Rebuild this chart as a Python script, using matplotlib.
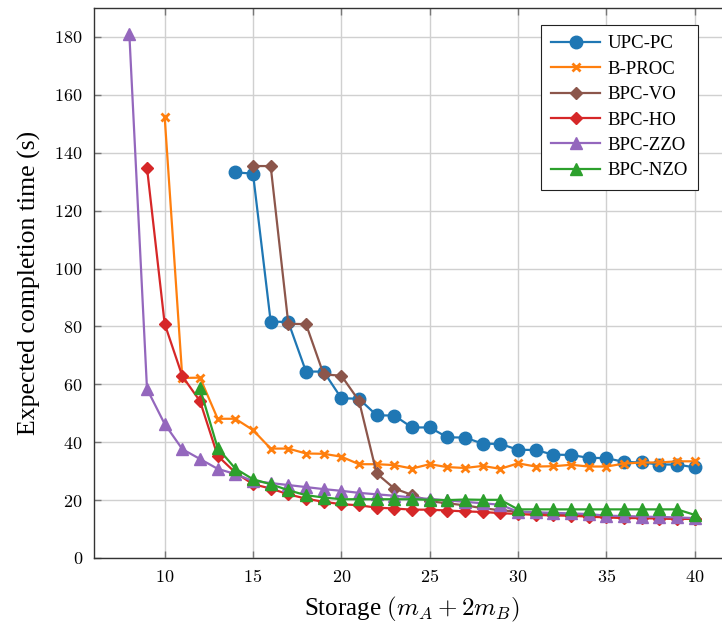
import numpy as np
import matplotlib
matplotlib.use("Agg")
import matplotlib.pyplot as plt
from matplotlib.ticker import FuncFormatter

plt.rcParams['font.family'] = ['Liberation Serif', 'DejaVu Serif']
plt.rcParams['mathtext.fontset'] = 'cm'

# Data
upc_x = list(range(14, 41))
upc_y = [133.2, 132.8, 81.7, 81.5, 64.4, 64.4, 55.2, 55.0, 49.3, 49.2, 45.1, 45.1,
         41.7, 41.6, 39.5, 39.4, 37.4, 37.3, 35.7, 35.6, 34.6, 34.5, 33.2, 33.0,
         32.3, 32.3, 31.3]

bproc_x = list(range(10, 41))
bproc_y = [152.4, 62.2, 62.3, 48.1, 48.1, 44.2, 37.8, 37.8, 36.1, 36.0, 35.0,
           32.4, 32.4, 32.1, 30.9, 32.4, 31.4, 31.1, 31.8, 30.8, 32.7, 31.6,
           31.7, 32.2, 31.6, 31.6, 32.6, 33.0, 33.0, 33.4, 33.4]

vo_x = list(range(15, 41))
vo_y = [135.4, 135.4, 80.9, 80.8, 63.4, 63.0, 54.3, 29.2, 24.0, 21.8, 19.6, 18.9,
        18.2, 17.2, 16.5, 16.0, 15.6, 15.3, 15.0, 14.8, 14.5, 14.3, 14.1, 13.9,
        13.7, 13.6]

ho_x = list(range(9, 41))
ho_y = [134.8, 80.9, 62.8, 54.2, 35.3, 29.5, 25.5, 24.0, 22.0, 20.5, 19.4, 18.6,
        18.2, 17.4, 17.1, 16.7, 16.7, 16.4, 16.1, 15.9, 15.5, 15.2, 14.9, 14.7,
        14.6, 14.3, 14.0, 13.8, 13.8, 13.6, 13.5, 13.5]

zzo_x = list(range(8, 41))
zzo_y = [181.0, 58.4, 46.3, 37.6, 34.2, 30.8, 29.0, 26.6, 25.9, 25.2, 24.5, 23.8,
         23.2, 22.5, 22.0, 21.5, 20.9, 20.4, 19.9, 19.4, 18.9, 18.4, 16.0, 15.8,
         15.6, 15.4, 15.2, 14.6, 14.5, 14.3, 14.2, 14.0, 13.8]

nzo_x = list(range(12, 41))
nzo_y = [58.6, 38.0, 30.9, 27.2, 25.5, 23.4, 21.7, 20.9, 20.3, 20.3, 20.3, 20.3,
         20.3, 20.1, 20.0, 20.2, 20.1, 20.1, 16.8, 16.8, 16.8, 16.8, 16.8, 16.8,
         16.8, 16.8, 16.8, 16.8, 14.9]

fig = plt.figure(figsize=(7.22, 6.22), dpi=100)
ax = fig.add_axes([94 / 722, 64 / 622, 636 / 722, 550 / 622])

lw = 1.6
ax.plot(upc_x, upc_y, color='#1f77b4', marker='o', markersize=9, lw=lw, label='UPC-PC')
ax.plot(bproc_x, bproc_y, color='#ff7f0e', marker='x', markersize=6, mew=2, lw=lw, label='B-PROC')
ax.plot(vo_x, vo_y, color='#8c564b', marker='D', markersize=6.5, lw=lw, label='BPC-VO')
ax.plot(ho_x, ho_y, color='#d62728', marker='D', markersize=6.5, lw=lw, label='BPC-HO')
ax.plot(zzo_x, zzo_y, color='#9467bd', marker='^', markersize=8.5, lw=lw, label='BPC-ZZO')
ax.plot(nzo_x, nzo_y, color='#2ca02c', marker='^', markersize=8.5, lw=lw, label='BPC-NZO')

ax.set_xlim(6, 42)
ax.set_ylim(0, 190)
ax.set_xticks([10, 15, 20, 25, 30, 35, 40])
ax.set_yticks(range(0, 181, 20))
fmt = FuncFormatter(lambda v, p: r'$%d$' % v)
ax.xaxis.set_major_formatter(fmt)
ax.yaxis.set_major_formatter(fmt)
ax.tick_params(direction='in', top=True, right=True, length=5, width=1,
               color='#777777', labelsize=13, pad=8)
ax.grid(True, color='#d0d0d0', lw=1)
ax.set_axisbelow(True)
for s in ax.spines.values():
    s.set_color('#333333')
    s.set_linewidth(1)

ax.set_xlabel(r'Storage $(m_A + 2m_B)$', fontsize=18, labelpad=6)
ax.set_ylabel('Expected completion time (s)', fontsize=18.5, labelpad=10)

leg = ax.legend(loc='upper left', bbox_to_anchor=(447 / 636, 1 - 17 / 550),
                borderaxespad=0, fontsize=13.5, fancybox=False, framealpha=1,
                edgecolor='#222222', handlelength=2.6, borderpad=0.55,
                labelspacing=0.44, handletextpad=0.4)
leg.get_frame().set_linewidth(0.8)

fig.savefig('out.png', dpi=100)
